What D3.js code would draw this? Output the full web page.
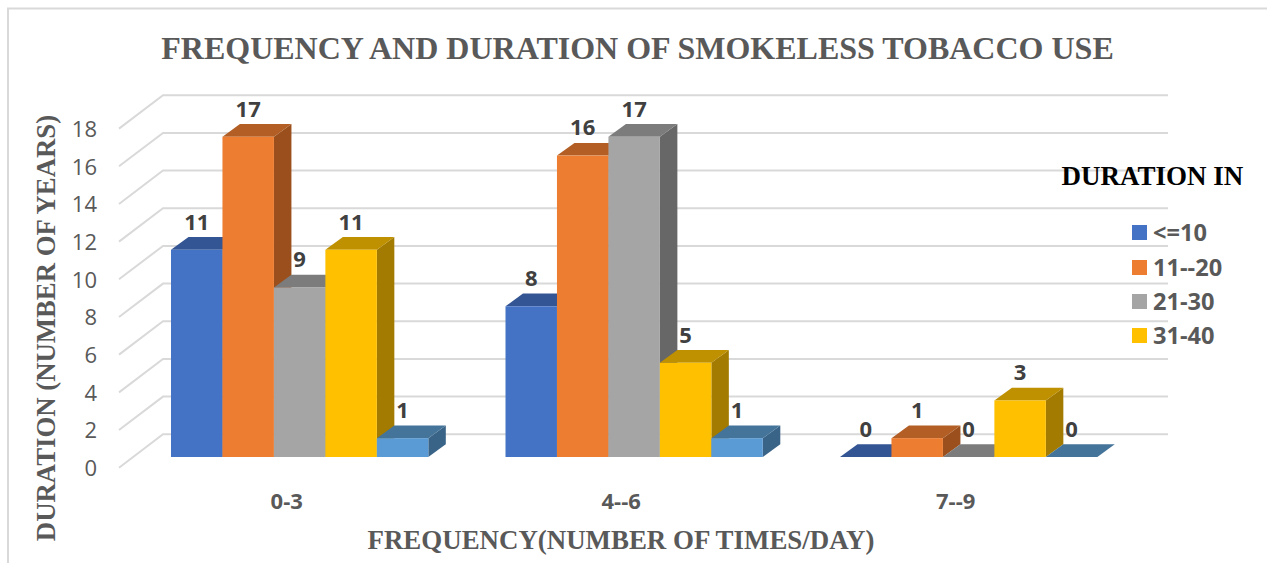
<!DOCTYPE html>
<html>
<head>
<meta charset="utf-8">
<script src="https://cdn.jsdelivr.net/npm/d3@7/dist/d3.min.js"></script>
<style>
  html, body { margin: 0; padding: 0; background: #fff; }
  svg { display: block; }
  text { font-family: "Open Sans", sans-serif; }
  .serif { font-family: "Liberation Serif", serif; font-weight: bold; }
</style>
</head>
<body>
<svg id="chart" width="1267" height="563"></svg>
<script>
const categories = ["0-3", "4--6", "7--9"];
const seriesA = [11, 8, 0];
const seriesB = [17, 16, 1];
const seriesC = [9, 17, 0];
const seriesD = [11, 5, 3];
const seriesE = [1, 1, 0];
const yTicks = [0, 2, 4, 6, 8, 10, 12, 14, 16, 18];
const legendNames = ["<=10", "11--20", "21-30", "31-40"];

const allSeries = [seriesA, seriesB, seriesC, seriesD, seriesE];
const frontColor = ["#4472C4", "#ED7D31", "#A5A5A5", "#FFC000", "#5B9BD5"];
const topColor = ["#335593", "#B25E25", "#7C7C7C", "#BF9000", "#447499"];
const sideColor = ["#2A4679", "#9A4F1C", "#676767", "#A37B00", "#3A6487"];

const svg = d3.select("#chart");
const depthX = 17.5, depthY = -12.7;

const y = d3.scaleLinear().domain([0, 18]).range([457, 117.9]);
const x0 = d3.scaleBand().domain(categories).range([4, 1007.5]).padding(0);
const x1 = d3.scaleBand().domain(d3.range(5)).range([167, 424.3]);
const groupX = c => x0(c);

// chart frame: open at the bottom, and the top rule runs off the right edge
svg.append("path").attr("d", "M8,563V8.5H1267")
  .attr("fill", "none").attr("stroke", "#d9d9d9").attr("stroke-width", 2);

// wall gridlines with the slanted floor-side returns
const backX0 = 163, backX1 = 1168, backLift = 22.7, sideDX = -44, sideDY = 33.4;
const grid = svg.append("g").attr("stroke", "#d9d9d9").attr("stroke-width", 2).attr("fill", "none");
yTicks.forEach(t => {
  const yb = y(t) - backLift;
  grid.append("path").attr("d", `M${backX0 + sideDX},${yb + sideDY}L${backX0},${yb}H${backX1}`);
});

// y tick labels
svg.append("g").selectAll("text").data(yTicks).join("text")
  .attr("x", 97).attr("y", d => y(d) + 19)
  .attr("text-anchor", "end").attr("font-size", 22).attr("fill", "#595959")
  .text(d => d);

// bars, sides and tops first so that front faces overlap them
categories.forEach(cat => {
  const ci = categories.indexOf(cat);
  const g = svg.append("g");
  const order = d3.range(5);
  order.forEach(si => {
    const v = allSeries[si][ci];
    const left = groupX(cat) + x1(si);
    const w = x1.bandwidth();
    const top = y(v), base = y(0);
    g.append("path").attr("fill", sideColor[si])
      .attr("d", `M${left + w},${top}l${depthX},${depthY}V${base + depthY}L${left + w},${base}Z`);
    g.append("path").attr("fill", topColor[si])
      .attr("d", `M${left},${top}l${depthX},${depthY}h${w}l${-depthX},${-depthY}Z`);
  });
  order.forEach(si => {
    const v = allSeries[si][ci];
    const left = groupX(cat) + x1(si);
    g.append("rect").attr("x", left).attr("y", y(v))
      .attr("width", x1.bandwidth()).attr("height", y(0) - y(v))
      .attr("fill", frontColor[si]);
  });
  order.forEach(si => {
    const v = allSeries[si][ci];
    g.append("text")
      .attr("x", groupX(cat) + x1(si) + x1.bandwidth() / 2)
      .attr("y", y(v) + depthY - 7.5)
      .attr("text-anchor", "middle").attr("font-size", 22).attr("font-weight", "bold")
      .attr("fill", "#404040").text(v);
  });
  svg.append("text").attr("x", groupX(cat) + 282.7).attr("y", 508.5)
    .attr("text-anchor", "middle").attr("font-size", 22).attr("font-weight", "bold")
    .attr("fill", "#595959").text(cat);
});

// titles
svg.append("text").attr("class", "serif").attr("x", 637.5).attr("y", 58.5)
  .attr("text-anchor", "middle").attr("font-size", 32).attr("fill", "#595959")
  .text("FREQUENCY AND DURATION OF SMOKELESS TOBACCO USE");
svg.append("text").attr("class", "serif").attr("x", 621).attr("y", 549)
  .attr("text-anchor", "middle").attr("font-size", 26.9).attr("fill", "#595959")
  .text("FREQUENCY(NUMBER OF TIMES/DAY)");
svg.append("text").attr("class", "serif")
  .attr("transform", "translate(54.5,328) rotate(-90)")
  .attr("text-anchor", "middle").attr("font-size", 26.75).attr("fill", "#595959")
  .text("DURATION (NUMBER OF YEARS)");
svg.append("text").attr("class", "serif").attr("x", 1152.5).attr("y", 185)
  .attr("text-anchor", "middle").attr("font-size", 27).attr("fill", "#000")
  .text("DURATION IN");

// legend
const legendY = [225, 260, 294, 328];
legendNames.forEach((name, i) => {
  svg.append("rect").attr("x", 1132).attr("y", legendY[i]).attr("width", 15).attr("height", 15)
    .attr("fill", frontColor[i]);
  svg.append("text").attr("x", 1153).attr("y", legendY[i] + 15.5)
    .attr("font-size", 23.6).attr("font-weight", "bold").attr("fill", "#595959").text(name);
});
</script>
</body>
</html>
